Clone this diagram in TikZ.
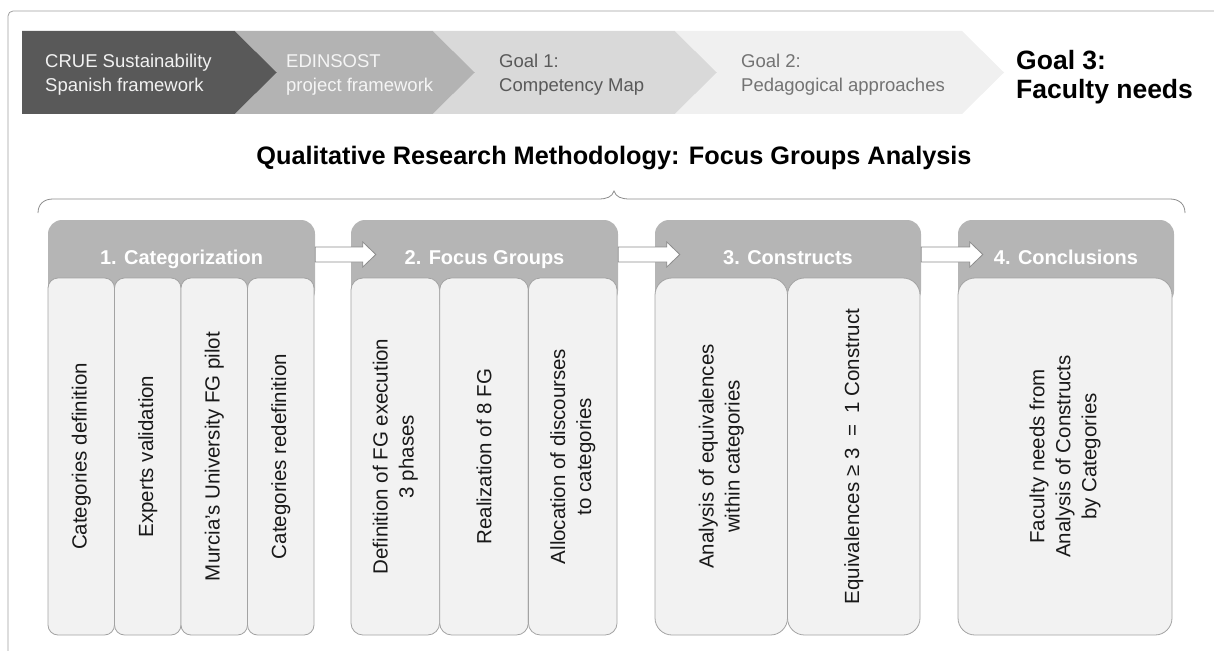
\documentclass[tikz,border=0pt]{standalone}
\usepackage{fontspec}
\setmainfont{Liberation Sans}[Ligatures=NoCommon]
\usepackage{tikz}
\usetikzlibrary{calc}
\definecolor{chevA}{HTML}{595959}
\definecolor{chevB}{HTML}{B3B3B3}
\definecolor{chevC}{HTML}{D9D9D9}
\definecolor{chevD}{HTML}{F0F0F0}
\definecolor{stagegrey}{HTML}{B5B5B5}
\definecolor{taskfill}{HTML}{F2F2F2}
\definecolor{taskline}{HTML}{A3A3A3}
\definecolor{frameline}{HTML}{A0A0A0}
\tikzset{band text/.style={anchor=west, inner sep=0pt, align=left, font=\fontsize{18.5}{24}\selectfont}}
\tikzset{goal text/.style={anchor=west, inner sep=0pt, align=left, font=\bfseries\fontsize{26.5}{29}\selectfont}}
\tikzset{title text/.style={anchor=base, inner sep=0pt, font=\bfseries\fontsize{25.3}{28}\selectfont}}
\tikzset{stage box/.style={rectangle, rounded corners=14pt, fill=stagegrey, minimum height=85pt, inner sep=0pt}}
\tikzset{stage label/.style={anchor=base, inner sep=0pt, text=white, font=\bfseries\fontsize{20}{24}\selectfont}}
\tikzset{task box/.style={rectangle, rotate=90, rounded corners=#1, draw=taskline, fill=taskfill, line width=0.8pt,
    minimum width=357pt, inner sep=0pt, align=center, text=black!90, font=\fontsize{20.5}{26}\selectfont},
  task box/.default=10pt}
\tikzset{flow arrow/.style={draw=black!45, fill=white, line width=0.8pt}}
\tikzset{brace line/.style={draw=black!45, line width=0.8pt}}
\newcommand{\flowarrow}[2]{%
  \draw[flow arrow] ($(#1.east)+(0,-15.5)$) -- ($(#2.west)+(12,-15.5)$) -- ($(#2.west)+(12,-20.5)$)
    -- ($(#2.west)+(25,-8)$) -- ($(#2.west)+(12,4.5)$) -- ($(#2.west)+(12,-0.5)$) -- ($(#1.east)+(0,-0.5)$) -- cycle;}

\begin{document}
\begin{tikzpicture}
  [x=1pt, y=-1pt]
  \useasboundingbox (0,0) rectangle (1214,650);
  \draw [frameline, line width=0.8pt, rounded corners=5pt] (8,652) |- (1216,11);

  % framework band
  \fill [chevA] (22,31)  -- (235,31) -- (277,72.5)  -- (235,114) -- (22,114)  -- cycle;
  \fill [chevB] (235,31) -- (433,31) -- (475,72.5)  -- (433,114) -- (235,114) -- (277,72.5) -- cycle;
  \fill [chevC] (433,31) -- (675,31) -- (717,72.5)  -- (675,114) -- (433,114) -- (475,72.5) -- cycle;
  \fill [chevD] (675,31) -- (962,31) -- (1004,72.5) -- (962,114) -- (675,114) -- (717,72.5) -- cycle;

  \node [band text, text=black!5]   (crue)     at (45,75)  {CRUE Sustainability\\Spanish framework};
  \node [band text, text=black!4]   (edinsost) at (286,75) {EDINSOST\\project framework};
  \node [band text, text=chevA]     (goalA)    at (499,75) {Goal 1:\\Competency Map};
  \node [band text, text=black!55]  (goalB)    at (741,75) {Goal 2:\\Pedagogical approaches};
  \node [goal text]                 (goalC)    at (1016,77) {Goal 3:\\Faculty needs};

  \node [title text] (title) at (614,164) {Qualitative Research Methodology: Focus Groups Analysis};
  \draw [brace line] (38,213) .. controls (38,204) and (44,199) .. (53,199) -- (598,199)
    .. controls (607,199) and (612,197) .. (614,191) .. controls (616,197) and (621,199) .. (630,199)
    -- (1170,199) .. controls (1179,199) and (1185,204) .. (1185,213);

  % stages
  \node [stage box, minimum width=267pt] (stA) at (181.5,262.5) {};
  \node [stage box, minimum width=267pt] (stB) at (484.5,262.5) {};
  \node [stage box, minimum width=266pt] (stC) at (788,262.5)   {};
  \node [stage box, minimum width=216pt] (stD) at (1066,262.5)  {};

  \node [stage label] (lbA) at (181.5,264) {1. Categorization};
  \node [stage label] (lbB) at (484.5,264) {2. Focus Groups};
  \node [stage label] (lbC) at (788,264)   {3. Constructs};
  \node [stage label] (lbD) at (1066,264)  {4. Conclusions};

  % tasks
  \node [task box, minimum height=66.5pt]      (tA1) at (81.25,456.5)  {Categories definition};
  \node [task box, minimum height=66.5pt]      (tA2) at (147.75,456.5) {Experts validation};
  \node [task box, minimum height=66.5pt]      (tA3) at (214.25,456.5) {Murcia's University FG pilot};
  \node [task box, minimum height=66.5pt]      (tA4) at (280.75,456.5) {Categories redefinition};
  \node [task box=12pt, minimum height=88.7pt] (tB1) at (395.3,456.5)  {Definition of FG execution\\3 phases};
  \node [task box=12pt, minimum height=88.7pt] (tB2) at (484,456.5)    {Realization of 8 FG};
  \node [task box=12pt, minimum height=88.7pt] (tB3) at (572.7,456.5)  {Allocation of discourses\\to categories};
  \node [task box=17pt, minimum height=132.5pt](tC1) at (721.25,456.5) {Analysis of equivalences\\within categories};
  \node [task box=17pt, minimum height=132.5pt](tC2) at (853.75,456.5) {Equivalences ≥ 3 \ = \ 1 Construct};
  \node [task box=17pt, minimum height=214pt]  (tD1) at (1065,456.5)   {Faculty needs from\\Analysis of Constructs\\by Categories};

  \flowarrow{stA}{stB}
  \flowarrow{stB}{stC}
  \flowarrow{stC}{stD}
\end{tikzpicture}
\end{document}
